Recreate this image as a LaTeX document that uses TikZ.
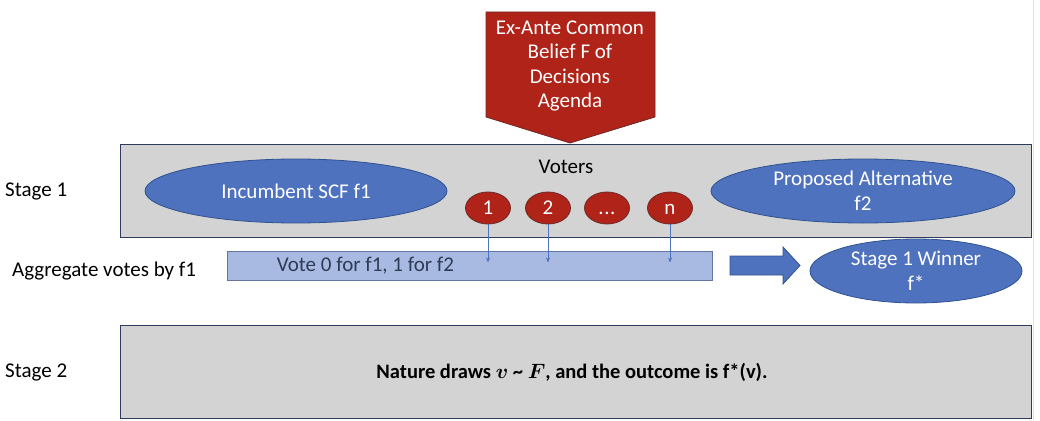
\documentclass[tikz,border=0pt]{standalone}
\usepackage{fontspec}
\usepackage{bm}
\setmainfont{Carlito}
\usetikzlibrary{shapes.geometric,arrows.meta,positioning}
\definecolor{offblue}{RGB}{79,114,190}
\definecolor{offblueline}{RGB}{47,82,143}
\definecolor{offred}{RGB}{176,35,24}
\definecolor{offredline}{RGB}{110,40,40}
\definecolor{stagegray}{RGB}{211,211,211}
\definecolor{stageline}{RGB}{47,59,92}
\definecolor{barblue}{RGB}{169,186,226}
\definecolor{barline}{RGB}{100,115,160}
\definecolor{bartext}{RGB}{46,59,85}
\newcommand\votedots{.\kern0.6pt.\kern0.6pt.}
\tikzstyle{stage box}=[draw=stageline, fill=stagegray, line width=0.8pt]
\tikzstyle{option}=[ellipse, draw=offblueline, fill=offblue, text=white, line width=0.8pt, inner sep=0pt, align=center]
\tikzstyle{voter}=[ellipse, draw=offredline, fill=offred, text=white, line width=0.8pt,
  minimum width=45, minimum height=32, inner sep=0pt, text height=13pt, text depth=0pt]
\tikzstyle{side label}=[anchor=west, inner sep=0pt]
\tikzstyle{vote arrow}=[draw=offblue, line width=0.6pt, -{Stealth[length=5pt,width=4pt]}]

\begin{document}
\begin{tikzpicture}[x=1pt, y=-1pt, font=\fontsize{21}{25}\selectfont]
  \useasboundingbox (0,0) rectangle (1040,420);
  \draw[gray!25, line width=0.8pt] (1033,0) -- (1033,420);

  % stage boxes
  \draw[stage box] (120,144) rectangle (1031,237);
  \draw[stage box] (120,325) rectangle (1031,418);

  % common belief
  \draw[fill=offred, draw=offredline, line width=0.8pt]
    (486,12) -- (655,12) -- (655,117) -- (570,143) -- (486,117) -- cycle;
  \node[text=white, align=center, font=\fontsize{21}{24.5}\selectfont] (belief) at (570,66)
    {Ex-Ante Common\\Belief F of\\Decisions\\Agenda};

  % stage 1
  \node[side label] (stage1) at (5,191) {Stage 1};
  \node[option, minimum width=302, minimum height=64] (incumbent) at (296,191) {Incumbent SCF f1};
  \node[option, minimum width=304, minimum height=64] (proposed) at (863,191) {Proposed Alternative\\f2};
  \node (voters) at (566,167) {Voters};
  \foreach \x/\v/\name in {488/1/v1, 548/2/v2, 607/\votedots/v3, 670/n/vn}
    \node[voter] (\name) at (\x,208) {\v};

  % aggregation
  \node[side label] (aggregate) at (12,271) {Aggregate votes by f1};
  \node[draw=barline, fill=barblue, line width=0.8pt, minimum width=485, minimum height=29,
    inner sep=0pt] (bar) at (469.5,265.5) {};
  \node[anchor=west, text=bartext, inner sep=0pt] (votetext) at ([xshift=50]bar.west) {Vote 0 for f1, 1 for f2};
  \foreach \name in {v1, v2, vn}
    \draw[vote arrow] (\name.south) -- ([yshift=3]\name |- bar.center);

  \draw[fill=offblue, draw=offblueline, line width=0.8pt]
    (730,256) -- (783,256) -- (783,247) -- (800,265.5) -- (783,284) -- (783,275) -- (730,275) -- cycle;
  \node[option, minimum width=212, minimum height=64] (winner) at (916,271) {Stage 1 Winner\\f*};

  % stage 2
  \node[side label] (stage2) at (5,372) {Stage 2};
  \node[font=\fontsize{20.5}{24}\selectfont\bfseries] (outcome) at (572,372)
    {Nature draws $\bm{v}$ \textasciitilde{} $\bm{F}$, and the outcome is f*(v).};
\end{tikzpicture}
\end{document}
